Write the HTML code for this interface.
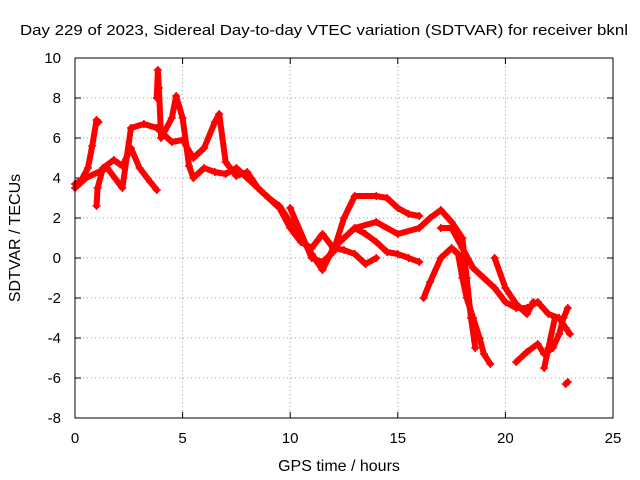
<!DOCTYPE html>
<html><head><meta charset="utf-8"><style>
body{margin:0;background:#fff}
svg{display:block;font-family:"Liberation Sans",sans-serif}
</style></head><body>
<svg id="chart" width="640" height="480" viewBox="0 0 640 480" xmlns="http://www.w3.org/2000/svg">
<rect width="640" height="480" fill="#fff"/>
<text x="20" y="35" font-size="15" textLength="608" lengthAdjust="spacingAndGlyphs">Day 229 of 2023, Sidereal Day-to-day VTEC variation (SDTVAR) for receiver bknl</text>
<text x="339" y="471" font-size="16" text-anchor="middle">GPS time / hours</text>
<text transform="translate(20,238) rotate(-90)" font-size="16" text-anchor="middle">SDTVAR / TECUs</text>
<g id="grid"></g><g id="ticks"></g><g id="series"></g>
<rect x="75" y="58" width="538" height="360" fill="none" stroke="#000" stroke-width="1"/>
</svg>
<script>
const xTicks=[0,5,10,15,20,25];
const yTicks=[-8,-6,-4,-2,0,2,4,6,8,10];
const s1=[[0,3.7],[0.3,3.9],[0.6,4.5],[0.8,5.6],[1.0,6.9],[1.1,6.8]];
const s2=[[1.0,2.6],[1.05,3.5],[1.3,4.5],[1.8,4.9],[2.2,4.6],[2.6,5.5],[3.0,4.5],[3.5,3.8],[3.8,3.4]];
const s3=[[0,3.5],[0.5,4],[1.5,4.5],[2.2,3.5],[2.6,6.5],[3.2,6.7],[3.8,6.5],[4.5,5.8],[5.0,5.9],[5.5,5.0],[6.0,5.5],[6.5,6.8],[6.7,7.2],[7.0,4.8],[7.5,4.1],[8.0,4.3],[8.5,3.5],[9,3.0],[9.5,2.6],[10,1.8],[10.5,1.0],[11,0.2],[11.5,-0.6],[12,0.5],[12.5,1.0],[13,1.5],[13.5,1.2],[14,0.8],[14.5,0.3],[15,0.2],[15.5,0],[16,-0.2]];
const s4=[[3.8,8],[3.85,9.4],[3.9,8.5],[4.0,6],[4.5,7],[4.7,8.1],[5.0,7],[5.3,4.6],[5.5,4.0],[6,4.5],[6.5,4.3],[7,4.2],[7.5,4.5],[8,4.0],[8.5,3.5],[9,3.0],[9.5,2.5],[10,1.5],[10.5,0.8],[11,0.5],[11.5,1.2],[12,0.5],[12.5,0.4],[13,0.2],[13.5,-0.3],[14,0]];
const s5=[[10,2.5],[11,0],[11.5,-0.2],[12,0.3],[12.5,2.0],[13,3.1],[14,3.1],[14.5,3.0],[15,2.5],[15.5,2.2],[16,2.1]];
const s6=[[13,1.5],[14,1.8],[15,1.2],[16,1.5],[16.5,2],[17,2.4],[17.5,1.8],[18,1.0],[18.2,-1],[18.4,-3],[18.6,-4.5]];
const s7=[[16.2,-2],[16.5,-1.2],[17,0],[17.5,0.5],[17.8,0.2],[18,-1],[18.2,-2],[18.5,-3],[18.8,-4],[19,-4.8],[19.3,-5.3]];
const s8=[[17,1.5],[17.5,1.5],[18,0.5],[18.5,-0.5],[19,-1],[19.5,-1.5],[20,-2.2],[20.5,-2.5],[21,-2.5],[21.5,-2.2],[22,-2.8],[22.5,-3],[22.8,-3.5],[23,-3.8]];
const s9=[[19.5,0],[20,-1.5],[20.5,-2.3],[21,-2.8],[21.3,-2.2]];
const s10=[[20.5,-5.2],[21,-4.7],[21.5,-4.3],[21.8,-4.8],[22.2,-4.5],[22.5,-3.8],[22.7,-3.0],[22.9,-2.5]];
const s11=[[21.8,-5.5],[22,-4.5],[22.3,-3.0]];
const s12=[[22.8,-6.3],[22.9,-6.2]];
const allSeries=[s1,s2,s3,s4,s5,s6,s7,s8,s9,s10,s11,s12];
const NS="http://www.w3.org/2000/svg";
const X0=75,X1=613,Y0=418,Y1=58;
function xs(t){return X0+(t-0)/(25-0)*(X1-X0);}
function ys(v){return Y0-(v-(-8))/(10-(-8))*(Y0-Y1);}
const grid=document.getElementById('grid'),ticks=document.getElementById('ticks'),ser=document.getElementById('series');
function mk(tag,attrs,parent){const e=document.createElementNS(NS,tag);for(const k in attrs)e.setAttribute(k,attrs[k]);parent.appendChild(e);return e;}
xTicks.forEach(t=>{
  const x=xs(t);
  if(t>0&&t<25){const g=mk('line',{x1:x,x2:x,y1:Y1,y2:Y0,stroke:'#a0a0a0','stroke-dasharray':'1,3'},grid);
  
  }
  const l=mk('text',{x:x,y:Y0+25,'font-size':15,'text-anchor':'middle'},ticks);
  l.textContent=t;
  
  
  mk('line',{x1:x,x2:x,y1:Y0,y2:Y0-6,stroke:'#000'},ticks);
  mk('line',{x1:x,x2:x,y1:Y1,y2:Y1+6,stroke:'#000'},ticks);
});
yTicks.forEach(v=>{
  const y=ys(v);
  if(v>-8&&v<10){const g=mk('line',{x1:X0,x2:X1,y1:y,y2:y,stroke:'#a0a0a0','stroke-dasharray':'1,3'},grid);
  
  }
  const l=mk('text',{x:X0-14,y:y+5,'font-size':15,'text-anchor':'end'},ticks);
  l.textContent=v;
  
  
  mk('line',{x1:X0,x2:X0+6,y1:y,y2:y,stroke:'#000'},ticks);
  mk('line',{x1:X1,x2:X1-6,y1:y,y2:y,stroke:'#000'},ticks);
});
allSeries.forEach((s,i)=>{
  const p=mk('polyline',{points:s.map(d=>xs(d[0])+','+ys(d[1])).join(' '),fill:'none',stroke:'#ff0000','stroke-width':6,'stroke-linejoin':'round','stroke-linecap':'round'},ser);
  
  
  s.forEach(d=>{
    const x=xs(d[0]),y=ys(d[1]);
    const m=mk('path',{d:`M${x-4},${y}H${x+4}M${x},${y-4}V${y+4}`,stroke:'#ff0000','stroke-width':1.5},ser);
    
    
  });
});
</script>
</body></html>
